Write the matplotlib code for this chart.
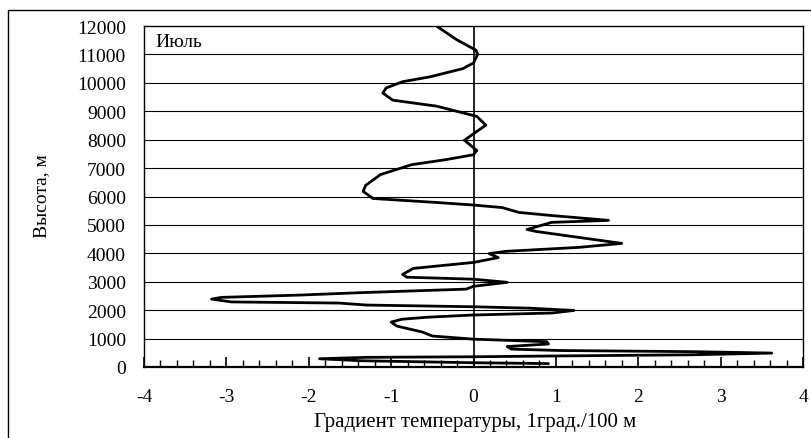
import matplotlib
matplotlib.use("Agg")
import matplotlib.pyplot as plt
from matplotlib.ticker import MultipleLocator
from matplotlib.patches import Rectangle

# Temperature gradient (deg/100 m) vs height (m), July
gradient = [-0.45, -0.20, 0.03, 0.05, 0.00, -0.13, -0.53, -0.86, -1.06, -1.10, -0.98, -0.45,
            0.04, 0.15, 0.04, -0.11, 0.04, 0.00, -0.33, -0.75, -1.13, -1.31, -1.34, -1.22,
            -0.45, 0.00, 0.35, 0.55, 0.95, 1.64, 0.95, 0.65, 0.76, 1.28, 1.80, 1.28, 0.39,
            0.19, 0.30, 0.00, -0.73, -0.86, -0.81, 0.00, 0.41, 0.00, -0.09, -1.38, -2.12,
            -3.06, -3.18, -2.94, -1.63, -1.30, 0.00, 0.68, 1.22, 0.95, 0.00, -0.57, -0.87,
            -1.00, -0.93, -0.62, -0.50, 0.00, 0.89, 0.91, 0.41, 0.46, 1.05, 2.66, 3.62,
            2.66, 1.05, 0.00, -1.30, -1.87, -1.36, 0.00, 0.91]
height = [12000, 11510, 11150, 11000, 10700, 10500, 10210, 10040, 9820, 9640, 9390, 9180,
          8820, 8510, 8290, 7980, 7620, 7470, 7300, 7120, 6770, 6390, 6180, 5930,
          5790, 5700, 5610, 5440, 5330, 5160, 5090, 4840, 4770, 4560, 4350, 4210, 4070,
          3990, 3850, 3680, 3470, 3260, 3160, 3090, 2980, 2840, 2740, 2615, 2530,
          2450, 2390, 2290, 2250, 2180, 2120, 2070, 1990, 1900, 1830, 1750, 1680,
          1580, 1440, 1230, 1090, 980, 890, 810, 720, 630, 580, 540, 490,
          430, 390, 360, 340, 290, 220, 150, 120]

x_ticks = [-4, -3, -2, -1, 0, 1, 2, 3, 4]
y_ticks = list(range(0, 12001, 1000))
month_label = "Июль"
x_title = "Градиент температуры, 1град./100 м"
y_title = "Высота, м"

plt.rcParams['font.family'] = ['Liberation Serif', 'DejaVu Serif']

W, H = 811, 439
fig = plt.figure(figsize=(W / 100, H / 100), dpi=100)
fig.patch.set_facecolor('white')

# outer chart border (only left/top visible in the crop)
fig.patches.append(Rectangle((8 / W, 0 - 0.05), 1.2, (H - 11) / H + 0.05,
                             transform=fig.transFigure, fill=False,
                             edgecolor='black', linewidth=1.0, clip_on=False))

left, right, top, bottom = 144, 803, 27, 368
ax = fig.add_axes([left / W, (H - bottom) / H, (right - left) / W, (bottom - top) / H])

ax.set_xlim(-4, 4)
ax.set_ylim(0, 12000)

for yv in y_ticks[1:-1]:
    ax.axhline(yv, color='black', linewidth=0.8, zorder=1)
ax.axvline(0, color='black', linewidth=1.2, zorder=1)

# small ticks of the vertical axis located at x = 0
sec = ax.secondary_yaxis(0.5)
sec.set_yticks(y_ticks)
sec.set_yticklabels([])
sec.tick_params(direction='out', length=0, width=1.0)
sec.spines['right'].set_visible(False)
sec.spines['left'].set_visible(False)

ax.plot(gradient, height, color='black', linewidth=2.0, solid_joinstyle='round',
        solid_capstyle='round', zorder=3)

ax.set_xticks(x_ticks)
ax.set_xticklabels([str(v) for v in x_ticks])
ax.xaxis.set_minor_locator(MultipleLocator(0.2))
ax.tick_params(axis='x', which='major', direction='in', length=7, width=1.2,
               pad=15, labelsize=14)
ax.tick_params(axis='x', which='minor', direction='in', length=5, width=1.0)

ax.set_yticks(y_ticks)
ax.set_yticklabels([str(v) for v in y_ticks])
ax.tick_params(axis='y', which='major', length=0, pad=13, labelsize=14)

for s in ax.spines.values():
    s.set_linewidth(1.0)
    s.set_color('black')
ax.spines['bottom'].set_linewidth(1.6)

ax.text(0.018, 0.955, month_label, transform=ax.transAxes, fontsize=14,
        ha='left', va='center')

fig.text(475 / W, 1 - 423 / H, x_title, ha='center', va='center', fontsize=15)
fig.text(42 / W, 1 - 196 / H, y_title, ha='center', va='center', fontsize=14,
         rotation=90)

fig.savefig("out.png", dpi=100, facecolor='white')
